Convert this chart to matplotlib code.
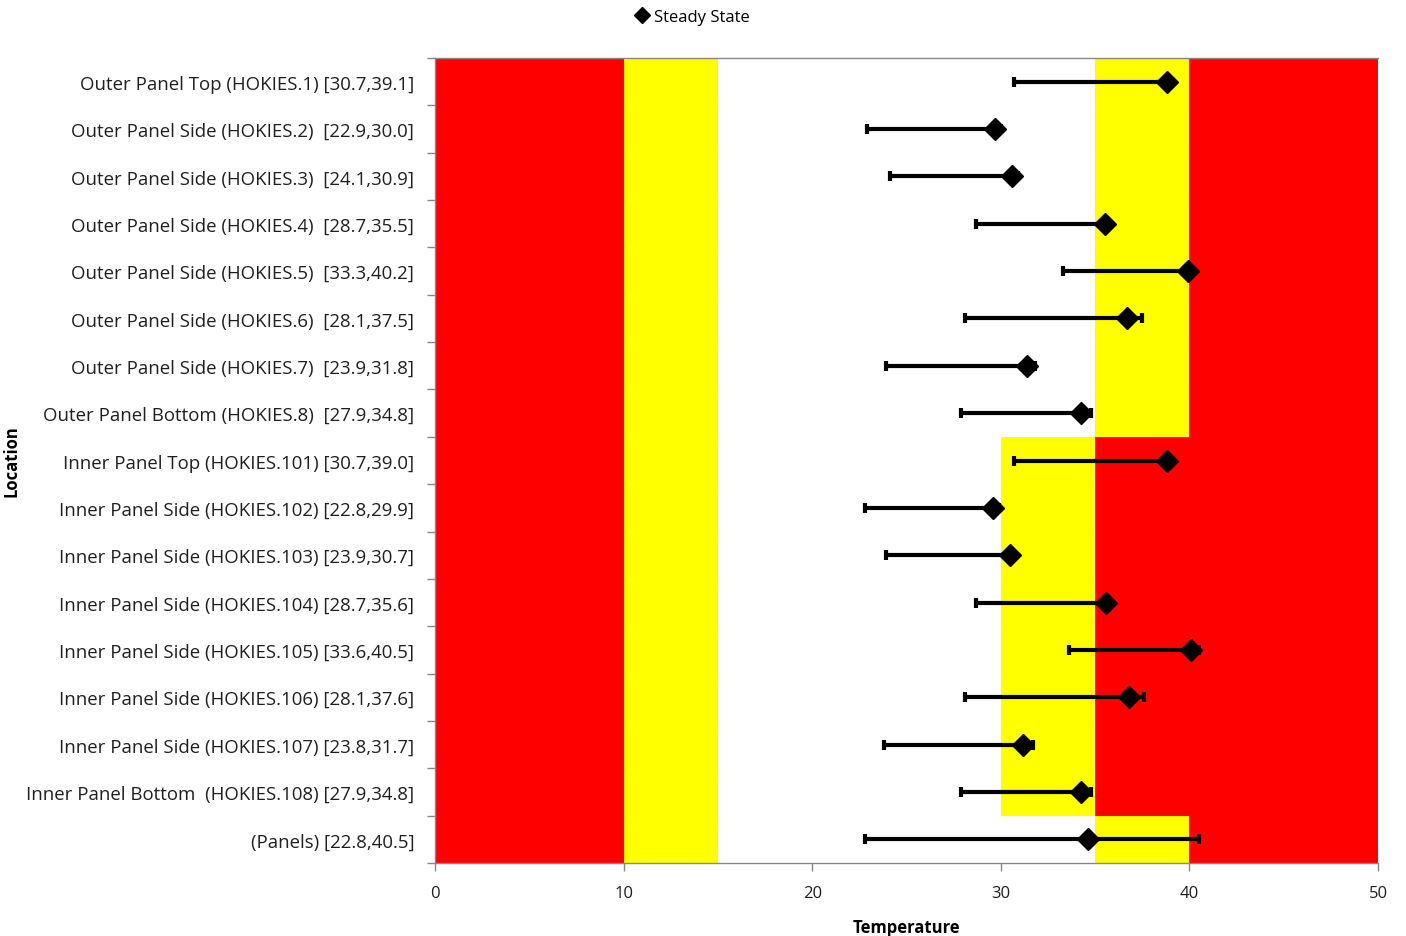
import numpy as np
import matplotlib
matplotlib.use('Agg')
import matplotlib.pyplot as plt
from matplotlib.lines import Line2D

plt.rcParams['font.family'] = ['Open Sans', 'DejaVu Sans']

# ---- data ----
locations = [
    'Outer Panel Top (HOKIES.1) [30.7,39.1]',
    'Outer Panel Side (HOKIES.2)  [22.9,30.0]',
    'Outer Panel Side (HOKIES.3)  [24.1,30.9]',
    'Outer Panel Side (HOKIES.4)  [28.7,35.5]',
    'Outer Panel Side (HOKIES.5)  [33.3,40.2]',
    'Outer Panel Side (HOKIES.6)  [28.1,37.5]',
    'Outer Panel Side (HOKIES.7)  [23.9,31.8]',
    'Outer Panel Bottom (HOKIES.8)  [27.9,34.8]',
    'Inner Panel Top (HOKIES.101) [30.7,39.0]',
    'Inner Panel Side (HOKIES.102) [22.8,29.9]',
    'Inner Panel Side (HOKIES.103) [23.9,30.7]',
    'Inner Panel Side (HOKIES.104) [28.7,35.6]',
    'Inner Panel Side (HOKIES.105) [33.6,40.5]',
    'Inner Panel Side (HOKIES.106) [28.1,37.6]',
    'Inner Panel Side (HOKIES.107) [23.8,31.7]',
    'Inner Panel Bottom  (HOKIES.108) [27.9,34.8]',
    '(Panels) [22.8,40.5]',
]
t_min = [30.7, 22.9, 24.1, 28.7, 33.3, 28.1, 23.9, 27.9,
         30.7, 22.8, 23.9, 28.7, 33.6, 28.1, 23.8, 27.9, 22.8]
t_max = [39.1, 30.0, 30.9, 35.5, 40.2, 37.5, 31.8, 34.8,
         39.0, 29.9, 30.7, 35.6, 40.5, 37.6, 31.7, 34.8, 40.5]
steady = [38.8, 29.7, 30.6, 35.5, 39.9, 36.7, 31.4, 34.25,
          38.8, 29.6, 30.5, 35.6, 40.1, 36.8, 31.2, 34.25, 34.6]

# comfort zones: boundaries per row group
outer_bounds = [0, 10, 15, 35, 40, 50]
inner_bounds = [0, 10, 15, 30, 35, 50]
zone_colors = ['#FF0000', '#FFFF00', '#FFFFFF', '#FFFF00', '#FF0000']
row_bounds = [outer_bounds] * 8 + [inner_bounds] * 8 + [outer_bounds]

fig = plt.figure(figsize=(14.06, 9.37), dpi=100)
ax = fig.add_axes([0.3094, 0.0779, 0.6707, 0.8591])

y = np.arange(len(locations))
for i, b in enumerate(row_bounds):
    lefts = b[:-1]
    widths = np.diff(b)
    ax.barh([i] * len(widths), widths, left=lefts, height=1.0,
            color=zone_colors, edgecolor=zone_colors, linewidth=0.6, zorder=1)

st = np.array(steady)
xerr = [st - np.array(t_min), np.array(t_max) - st]
ax.errorbar(st, y, xerr=xerr, fmt='none', ecolor='black', elinewidth=3,
            capsize=3.6, capthick=3, zorder=3)
ax.plot(st, y, linestyle='none', marker='D', color='black', markersize=11, zorder=4)

ax.set_xlim(0, 50)
ax.set_ylim(len(locations) - 0.5, -0.5)
ax.set_xticks([0, 10, 20, 30, 40, 50])
ax.set_yticks(y)
ax.set_yticklabels(locations)
ax.set_yticks(np.arange(-0.5, len(locations), 1.0), minor=True)
ax.tick_params(axis='y', which='major', length=0, pad=15, labelsize=13.4, colors='#1f1f1f')
ax.tick_params(axis='y', which='minor', length=6, color='#888888', width=1)
ax.tick_params(axis='x', length=6, color='#888888', width=1, labelsize=12, pad=10,
               labelcolor='#1f1f1f')

for s in ax.spines.values():
    s.set_color('#888888')
    s.set_linewidth(1)
ax.spines['right'].set_visible(False)

ax.set_xlabel('Temperature', fontweight='bold', fontsize=12, labelpad=12)
ax.set_ylabel('Location', fontweight='bold', fontsize=12)
ax.yaxis.set_label_coords(-0.44, 0.5)

handle = Line2D([0], [0], linestyle='none', marker='D', color='black', markersize=8)
fig.legend([handle], ['Steady State'], loc='upper center', bbox_to_anchor=(0.492, 1.005),
           frameon=False, fontsize=12, handletextpad=0.2, handlelength=1.0)

fig.savefig('out.png', dpi=100)
